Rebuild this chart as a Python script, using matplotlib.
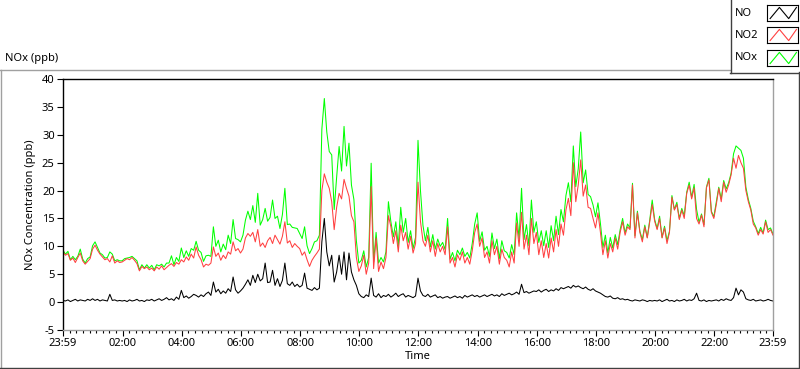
import numpy as np
import matplotlib
matplotlib.use("Agg")
import matplotlib.pyplot as plt
from matplotlib.lines import Line2D

plt.rcParams['font.family'] = ['Noto Sans', 'DejaVu Sans']
plt.rcParams['axes.unicode_minus'] = False

# 5-minute readings, 23:59 -> 23:59 (one row per hour)
no2_ppb = [
    9.0, 8.4, 8.7, 7.5, 7.9, 7.1, 8.0, 8.8, 7.4, 6.8, 7.3, 7.8,
    9.5, 10.2, 9.3, 8.6, 8.1, 7.6, 7.8, 7.2, 8.3, 7.0, 7.4, 7.1,
    7.2, 7.5, 7.8, 7.6, 8.0, 7.5, 6.9, 5.6, 6.4, 6.0, 6.3, 5.8,
    6.1, 5.6, 6.3, 5.9, 6.5, 5.8, 6.2, 6.6, 6.9, 6.4, 7.1, 6.8,
    7.6, 7.2, 8.1, 7.5, 8.6, 7.9, 9.9, 8.4, 7.6, 6.3, 6.8, 6.6,
    7.0, 9.9, 8.2, 8.8, 7.5, 8.4, 7.8, 9.0, 8.6, 10.8, 9.2, 9.6,
    8.8, 9.5, 11.5, 12.3, 11.8, 12.5, 10.8, 13.0, 10.0, 10.6, 9.8, 11.0,
    11.6, 10.5, 12.0, 11.2, 10.4, 11.8, 14.4, 10.6, 11.0, 9.8, 10.5, 10.0,
    9.6, 8.4, 9.0, 7.6, 6.4, 7.5, 8.2, 8.8, 9.5, 20.0, 23.0, 21.5,
    20.4, 18.0, 13.0, 17.0, 19.5, 18.5, 22.0, 20.4, 19.0, 15.5, 14.4, 8.0,
    5.5, 6.5, 8.4, 5.0, 7.0, 20.7, 6.0, 11.5, 5.5, 7.2, 6.0, 8.0,
    15.5, 13.5, 10.5, 12.8, 9.0, 13.8, 11.0, 12.5, 9.5, 11.8, 8.8, 10.5,
    21.5, 14.5, 11.0, 10.0, 12.0, 9.0, 11.0, 8.2, 10.5, 9.0, 10.0, 8.5,
    13.5, 7.0, 8.0, 6.3, 8.5, 7.5, 9.0, 7.0, 8.0, 6.8, 9.2, 12.5,
    14.0, 10.0, 11.5, 8.0, 9.0, 7.0, 11.0, 8.5, 10.0, 6.8, 9.5, 8.0,
    7.5, 6.3, 9.0, 7.0, 14.2, 10.0, 16.1, 9.5, 12.0, 8.5, 15.0, 10.5,
    12.5, 8.5, 11.0, 8.0, 10.5, 7.9, 11.5, 9.0, 13.0, 10.0, 14.0, 12.0,
    16.5, 18.6, 15.5, 25.0, 18.0, 21.0, 25.5, 19.0, 21.0, 17.0, 16.8, 15.0,
    13.3, 16.0, 12.5, 8.5, 11.0, 7.9, 10.5, 9.0, 11.5, 9.5, 12.5, 14.4,
    12.0, 13.5, 13.0, 21.0, 11.5, 16.0, 12.5, 10.8, 13.5, 11.5, 14.4, 17.5,
    14.5, 13.0, 15.0, 11.5, 13.3, 10.5, 12.5, 18.8, 16.5, 17.5, 14.8, 16.5,
    15.0, 19.5, 21.0, 18.5, 20.5, 15.0, 14.0, 15.6, 13.5, 20.5, 21.9, 16.1,
    15.0, 17.5, 20.4, 18.0, 21.5, 19.7, 21.0, 22.8, 25.8, 24.0, 26.3, 25.0,
    24.0, 20.0, 18.0, 16.5, 14.0, 13.3, 12.0, 13.0, 12.2, 14.4, 12.5, 13.0,
    12.0,
]

no_ppb = [
    0.3, 0.2, 0.4, 0.1, 0.3, 0.5, 0.2, 0.4, 0.3, 0.2, 0.5, 0.3,
    0.6, 0.3, 0.5, 0.2, 0.4, 0.3, 0.2, 1.4, 0.3, 0.4, 0.2, 0.3,
    0.2, 0.3, 0.1, 0.4, 0.2, 0.3, 0.5, 0.2, 0.3, 0.1, 0.4, 0.3,
    0.5, 0.2, 0.4, 0.6, 0.3, 0.5, 0.8, 0.4, 0.6, 0.3, 0.9, 0.5,
    2.1, 0.8, 1.1, 0.7, 1.0, 1.4, 1.2, 0.9, 1.3, 1.0, 1.5, 1.8,
    1.2, 3.6, 1.8, 2.3, 1.5, 2.0, 1.6, 2.4, 1.9, 4.5, 2.2, 1.6,
    2.0, 2.5, 3.2, 4.0, 3.0, 4.8, 3.5, 5.0, 3.8, 4.2, 7.0, 3.5,
    3.6, 5.7, 3.0, 4.2, 2.8, 3.9, 7.0, 3.3, 3.0, 3.6, 2.8, 3.2,
    2.7, 3.0, 5.2, 2.5, 2.3, 2.1, 2.6, 2.2, 2.5, 10.8, 15.0, 9.0,
    6.5, 8.4, 3.6, 5.4, 8.4, 5.0, 9.0, 4.0, 8.8, 5.4, 4.0, 3.0,
    1.5, 1.0, 0.8, 1.3, 1.0, 4.3, 1.2, 0.9, 1.5, 0.8, 1.2, 1.0,
    1.4, 0.9, 1.2, 1.6, 1.0, 1.3, 1.5, 0.9, 1.2, 1.0, 0.8, 1.1,
    4.3, 2.0, 1.2, 1.0, 1.4, 0.9, 1.1, 1.3, 0.8, 1.0, 0.7, 0.9,
    1.0, 0.7, 0.9, 1.1, 0.8, 1.0, 0.7, 1.2, 0.9, 1.1, 1.3, 1.0,
    1.2, 0.9, 1.1, 1.3, 1.0, 1.2, 1.4, 1.1, 1.3, 1.0, 1.5, 1.2,
    1.4, 1.6, 1.3, 1.5, 1.8, 1.4, 3.2, 1.7, 1.9, 1.6, 1.8, 2.0,
    1.9, 2.2, 1.8, 2.1, 2.3, 1.9, 2.2, 2.0, 2.4, 2.1, 2.6, 2.4,
    2.6, 2.8, 2.5, 3.0, 2.7, 2.9, 2.6, 2.4, 2.7, 2.3, 2.1, 2.4,
    2.0, 1.8, 1.6, 1.3, 1.0, 0.9, 1.1, 0.7, 0.6, 0.8, 0.5, 0.6,
    0.4, 0.5, 0.3, 0.2, 0.4, 0.3, 0.2, 0.4, 0.3, 0.1, 0.3, 0.2,
    0.3, 0.2, 0.4, 0.1, 0.3, 0.5, 0.2, 0.3, 0.1, 0.4, 0.2, 0.3,
    0.5, 0.2, 0.4, 0.3, 0.6, 1.6, 0.3, 0.2, 0.4, 0.1, 0.3, 0.2,
    0.3, 0.4, 0.2, 0.5, 0.3, 0.6, 0.4, 0.3, 0.8, 2.5, 1.3, 2.2,
    1.8, 0.6, 0.4, 0.3, 0.5, 0.2, 0.3, 0.4, 0.2, 0.3, 0.5, 0.3,
    0.2,
]

nox_ppb = [
    9.3, 8.6, 9.1, 7.6, 8.2, 7.6, 8.2, 9.5, 7.7, 7.0, 7.8, 8.1,
    10.1, 10.8, 9.8, 8.8, 8.5, 7.9, 8.0, 9.0, 8.6, 7.4, 7.6, 7.4,
    7.4, 7.8, 7.9, 8.0, 8.2, 7.8, 7.4, 5.8, 6.7, 6.1, 6.7, 6.1,
    6.6, 5.8, 6.7, 6.5, 6.8, 6.3, 7.0, 7.0, 8.3, 6.7, 8.0, 7.3,
    9.7, 8.0, 9.2, 8.2, 9.6, 9.3, 10.9, 9.3, 8.9, 7.3, 8.3, 8.4,
    8.2, 13.5, 10.0, 11.1, 9.0, 10.4, 9.4, 12.0, 10.5, 14.8, 11.4, 11.2,
    10.8, 12.0, 14.7, 16.3, 14.8, 17.3, 14.3, 19.5, 13.8, 14.8, 16.8, 14.5,
    15.2, 18.3, 15.0, 15.4, 13.2, 15.7, 20.4, 13.9, 14.0, 13.4, 13.3, 13.2,
    12.3, 11.4, 13.5, 10.1, 8.7, 9.6, 10.8, 11.0, 12.0, 31.0, 36.5, 30.5,
    27.0, 26.4, 16.6, 22.4, 27.9, 23.5, 31.5, 24.4, 28.5, 21.0, 18.4, 11.0,
    7.0, 7.5, 9.2, 6.3, 8.0, 24.9, 7.2, 12.5, 7.0, 8.0, 7.2, 9.0,
    18.0, 14.4, 11.7, 14.4, 10.0, 17.0, 12.5, 15.0, 10.7, 12.8, 9.6, 11.6,
    29.0, 20.0, 13.8, 11.0, 13.4, 9.9, 12.1, 9.5, 11.3, 10.0, 10.7, 9.4,
    15.0, 7.7, 8.9, 7.4, 9.3, 8.5, 9.7, 8.2, 8.9, 7.9, 10.5, 14.0,
    16.0, 10.9, 12.6, 9.3, 10.0, 8.2, 12.4, 9.6, 11.3, 7.8, 11.0, 9.2,
    8.9, 7.9, 10.3, 8.5, 16.0, 11.4, 20.4, 11.2, 13.9, 10.1, 18.3, 12.5,
    14.4, 10.7, 12.8, 10.1, 12.8, 9.8, 13.7, 11.0, 15.4, 12.1, 16.6, 14.4,
    19.1, 21.4, 18.0, 28.0, 20.7, 23.9, 30.5, 21.4, 23.7, 19.3, 18.9, 17.4,
    15.3, 17.8, 14.1, 9.8, 12.0, 8.8, 11.6, 9.7, 12.1, 10.3, 13.0, 15.0,
    12.4, 14.0, 13.3, 21.3, 11.9, 16.3, 12.7, 11.2, 13.8, 11.6, 14.7, 18.3,
    14.8, 13.2, 15.4, 11.6, 13.6, 11.0, 12.7, 19.1, 16.6, 17.9, 15.0, 16.8,
    15.5, 19.7, 21.5, 18.8, 21.1, 16.6, 14.3, 15.8, 13.9, 20.6, 22.2, 16.3,
    15.3, 17.9, 20.6, 18.5, 21.8, 20.3, 21.4, 23.1, 26.6, 28.0, 27.6, 27.2,
    25.8, 20.6, 18.4, 16.8, 14.5, 13.5, 12.3, 13.4, 12.4, 14.7, 13.0, 13.3,
    12.2,
]

tick_labels = ["23:59", "02:00", "04:00", "06:00", "08:00", "10:00", "12:00",
               "14:00", "16:00", "18:00", "20:00", "22:00", "23:59"]

# hours since 23:59
hours = np.arange(len(no2_ppb)) * 5 / 60

W, H = 800, 369
fig = plt.figure(figsize=(W / 100, H / 100), dpi=100)
fig.patch.set_facecolor("white")

ax = fig.add_axes([63 / W, 1 - 330 / H, 710 / W, 251 / H])
ax.plot(hours, nox_ppb, color="#00ff00", lw=0.75)
ax.plot(hours, no2_ppb, color="#ff4040", lw=0.75)
ax.plot(hours, no_ppb, color="black", lw=0.75)

ax.set_xlim(0, 24)
ax.set_ylim(-5, 40)

major = [0] + [2 * k + 1 / 60 for k in range(1, 12)] + [24]
minor = []
for a, b in zip(major[:-1], major[1:]):
    minor += list(np.linspace(a, b, 10)[1:-1])
ax.set_xticks(major)
ax.set_xticklabels(tick_labels)
ax.set_xticks(minor, minor=True)
ax.set_yticks(range(-5, 41, 5))

ax.tick_params(axis="both", which="major", length=4, width=0.8, labelsize=8,
               colors="black", pad=2)
ax.tick_params(axis="x", which="minor", length=2, width=0.8, colors="black")

ax.spines["left"].set_color("black")
ax.spines["top"].set_color("black")
ax.spines["right"].set_color("#a0a0a0")
ax.spines["bottom"].set_color("#a0a0a0")
for s in ax.spines.values():
    s.set_linewidth(1.0)

ax.set_xlabel("Time", fontsize=8, labelpad=1)
ax.set_ylabel("NOx Concentration (ppb)", fontsize=8, labelpad=4)

fig.text(5 / W, 1 - 58 / H, "NOx (ppb)", fontsize=8, va="center", ha="left")

# outer panel frame
def fline(x0, y0, x1, y1, color):
    fig.add_artist(Line2D([x0 / W, x1 / W], [1 - y0 / H, 1 - y1 / H],
                          transform=fig.transFigure, color=color, lw=1))

fline(0, 69.5, 730, 69.5, "#a0a0a0")
fline(1, 69.5, 1, 368, "#a0a0a0")
fline(0, 367.5, 799, 367.5, "#404040")
fline(798.5, 72, 798.5, 368, "#404040")
# legend box
fline(730.5, 0, 730.5, 72.5, "#404040")
fline(730, 72.5, 799, 72.5, "#404040")

# legend entries
legend_items = [("NO", "black", 13), ("NO2", "#ff4040", 35), ("NOx", "#00ff00", 58)]
for name, col, yc in legend_items:
    fig.text(735 / W, 1 - yc / H, name, fontsize=8, va="center", ha="left")
    sw = fig.add_axes([767 / W, 1 - (yc + 8) / H, 31 / W, 16 / H])
    sw.plot([0.1, 0.4, 0.7, 0.95], [0.15, 0.85, 0.15, 0.85], color=col, lw=0.8)
    sw.set_xlim(0, 1)
    sw.set_ylim(0, 1)
    sw.set_xticks([])
    sw.set_yticks([])
    for s in sw.spines.values():
        s.set_color("black")
        s.set_linewidth(0.8)

fig.savefig("out.png", dpi=100)
